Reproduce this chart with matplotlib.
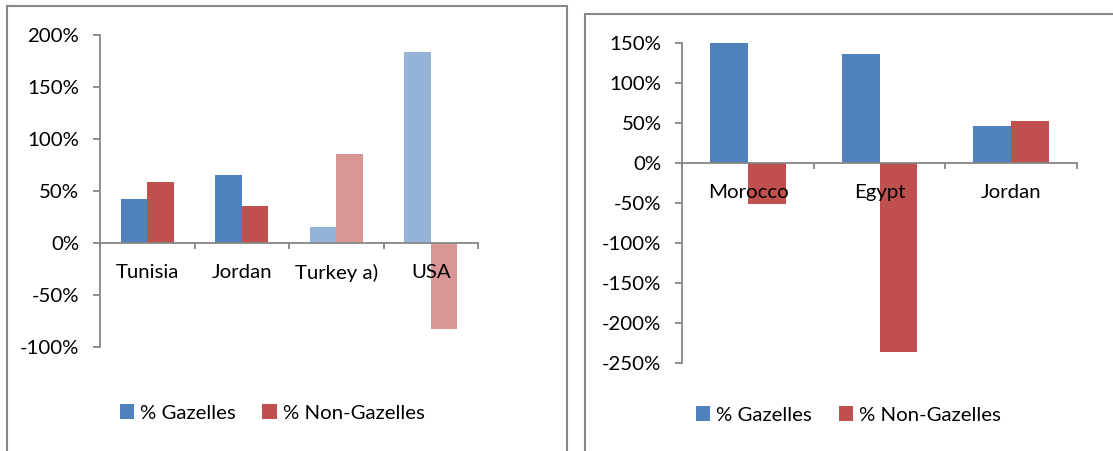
import matplotlib
matplotlib.use("Agg")
import matplotlib.pyplot as plt
from matplotlib.lines import Line2D
from matplotlib.patches import Patch
import numpy as np

# ---- data ----
left_categories = ["Tunisia", "Jordan", "Turkey a)", "USA"]
left_gazelles = [42, 65, 15, 183]
left_non_gazelles = [58, 35, 85, -83]
left_faded = [False, False, True, True]

right_categories = ["Morocco", "Egypt", "Jordan"]
right_gazelles = [150, 136, 46]
right_non_gazelles = [-51, -236, 53]

left_yticks = [-100, -50, 0, 50, 100, 150, 200]
right_yticks = [-250, -200, -150, -100, -50, 0, 50, 100, 150]

series_labels = ["% Gazelles", "% Non-Gazelles"]

# ---- style ----
BLUE = "#4F81BD"
RED = "#C0504D"
BLUE_L = "#95B3D7"
RED_L = "#D99694"
AXC = "#868686"
FONT = "Lato"
FS = 14.7

W, H = 1113, 451
fig = plt.figure(figsize=(W / 100, H / 100), dpi=100)
plt.rcParams["font.family"] = [FONT, "DejaVu Sans"]


def px_axes(x0, x1, ytop, ybot):
    return fig.add_axes([x0 / W, 1 - ybot / H, (x1 - x0) / W, (ybot - ytop) / H])


def style_axes(ax, cats, yticks):
    n = len(cats)
    ax.set_xlim(-0.5, n - 0.5)
    ax.set_ylim(yticks[0], yticks[-1])
    for s in ["top", "right"]:
        ax.spines[s].set_visible(False)
    ax.spines["left"].set_color(AXC)
    ax.spines["left"].set_linewidth(1.3)
    ax.spines["bottom"].set_color(AXC)
    ax.spines["bottom"].set_linewidth(1.3)
    ax.spines["bottom"].set_position(("data", 0))
    ax.set_yticks(yticks)
    ax.set_yticklabels([f"{v}%" for v in yticks], fontsize=FS, family=[FONT, "DejaVu Sans"])
    ax.tick_params(axis="y", direction="out", length=5, width=1.3, color=AXC, pad=10)
    ax.set_xticks(np.arange(n + 1) - 0.5)
    ax.set_xticklabels([])
    ax.tick_params(axis="x", direction="out", length=4.5, width=1.3, color=AXC)
    for i, c in enumerate(cats):
        ax.annotate(c, xy=(i, 0), xytext=(0, -21.5), textcoords="offset points",
                    ha="center", va="center", fontsize=FS, family=[FONT, "DejaVu Sans"],
                    zorder=5, annotation_clip=False)
    ax.patch.set_alpha(0)


def add_legend(cx, cy):
    handles = [Patch(facecolor=BLUE, edgecolor="none"), Patch(facecolor=RED, edgecolor="none")]
    fig.legend(handles, series_labels, loc="center", bbox_to_anchor=(cx / W, 1 - cy / H),
               ncol=2, frameon=False, handlelength=0.7, handleheight=0.7,
               handletextpad=0.3, columnspacing=1.3, borderpad=0,
               prop={"family": [FONT, "DejaVu Sans"], "size": FS})


# ---- left panel ----
axL = px_axes(100, 478, 34.7, 346.7)
x = np.arange(len(left_categories))
wL = 0.2825
gcol = [BLUE_L if f else BLUE for f in left_faded]
ncol = [RED_L if f else RED for f in left_faded]
axL.bar(x - wL / 2, left_gazelles, width=wL, color=gcol, zorder=1)
axL.bar(x + wL / 2, left_non_gazelles, width=wL, color=ncol, zorder=1)
style_axes(axL, left_categories, left_yticks)
add_legend(272, 413)

# ---- right panel ----
axR = px_axes(682.3, 1076.7, 43, 363.3)
x = np.arange(len(right_categories))
wR = 0.287
axR.bar(x - wR / 2, right_gazelles, width=wR, color=BLUE, zorder=1)
axR.bar(x + wR / 2, right_non_gazelles, width=wR, color=RED, zorder=1)
style_axes(axR, right_categories, right_yticks)
add_legend(848.5, 415)

# ---- panel borders ----
BC = "#878787"
BW = 1.5


def fline(xs, ys):
    fig.add_artist(Line2D([v / W for v in xs], [1 - v / H for v in ys],
                          color=BC, linewidth=BW, transform=fig.transFigure))


fline([7, 7], [5.5, 460])
fline([7, 567], [5.5, 5.5])
fline([567, 567], [5.5, 460])
fline([584.5, 584.5], [14, 460])
fline([584.5, 1120], [14, 14])

fig.savefig("out.png", dpi=100)
